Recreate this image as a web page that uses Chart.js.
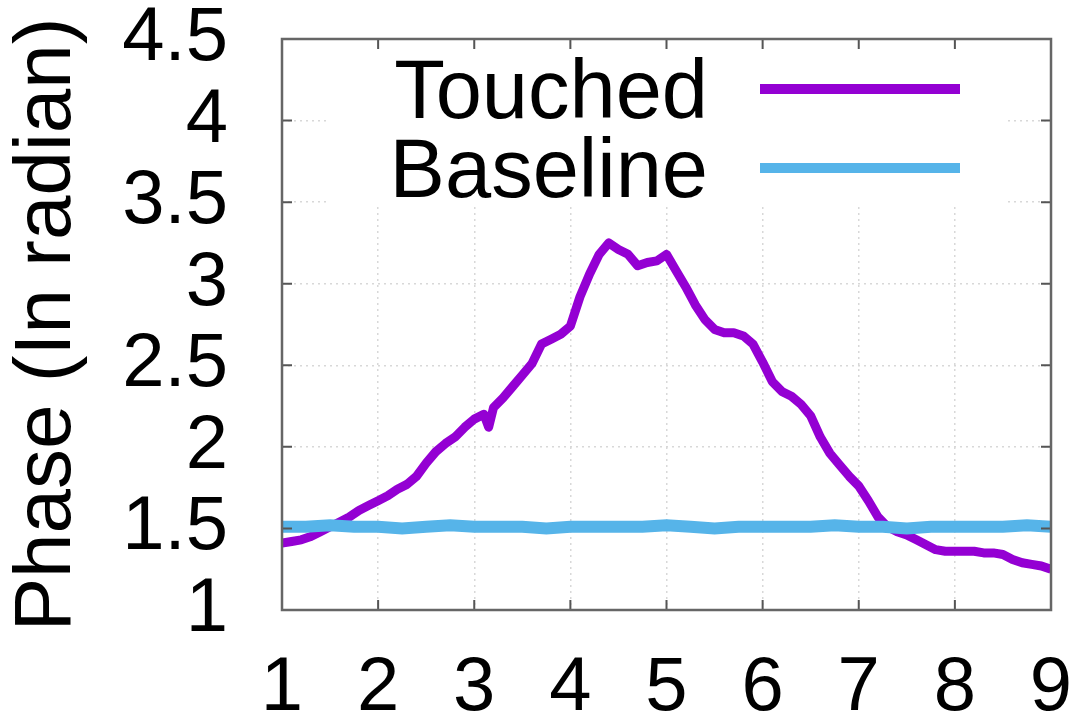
<!DOCTYPE html>
<html>
<head>
<meta charset="utf-8">
<script src="https://cdn.jsdelivr.net/npm/chart.js@4"></script>
<style>
  html, body { margin: 0; padding: 0; background: #fff; }
  #wrap { width: 1087px; height: 721px; }
</style>
</head>
<body>
<div id="wrap"><canvas id="chartPhase" width="1087" height="721"></canvas></div>
<script>
// Phase over time: touched vs. baseline
const xTickValues = [1, 2, 3, 4, 5, 6, 7, 8, 9];
const yTickValues = [1, 1.5, 2, 2.5, 3, 3.5, 4, 4.5];

const touchedX = [1.0, 1.1, 1.2, 1.3, 1.4, 1.5, 1.6, 1.7, 1.8, 1.9,
  2.0, 2.1, 2.2, 2.3, 2.4, 2.5, 2.6, 2.7, 2.8, 2.9,
  3.0, 3.1, 3.15, 3.2, 3.3, 3.4, 3.5, 3.6, 3.7, 3.8, 3.9,
  4.0, 4.1, 4.2, 4.3, 4.4, 4.5, 4.6, 4.7, 4.8, 4.9,
  5.0, 5.1, 5.2, 5.3, 5.4, 5.5, 5.6, 5.7, 5.8, 5.9,
  6.0, 6.1, 6.2, 6.3, 6.4, 6.5, 6.6, 6.7, 6.8, 6.9,
  7.0, 7.1, 7.2, 7.3, 7.4, 7.5, 7.6, 7.7, 7.8, 7.9,
  8.0, 8.1, 8.2, 8.3, 8.4, 8.5, 8.6, 8.7, 8.8, 8.9, 9.0];
const touchedPhase = [1.41, 1.42, 1.43, 1.45, 1.48, 1.51, 1.54, 1.57, 1.61, 1.64,
  1.67, 1.70, 1.74, 1.77, 1.82, 1.90, 1.97, 2.02, 2.06, 2.12,
  2.17, 2.20, 2.12, 2.24, 2.30, 2.37, 2.44, 2.51, 2.63, 2.66, 2.69,
  2.74, 2.92, 3.06, 3.18, 3.25, 3.21, 3.18, 3.11, 3.13, 3.14,
  3.18, 3.08, 2.98, 2.87, 2.78, 2.72, 2.70, 2.70, 2.68, 2.63,
  2.52, 2.40, 2.34, 2.31, 2.26, 2.19, 2.06, 1.96, 1.89, 1.82,
  1.76, 1.67, 1.57, 1.51, 1.48, 1.46, 1.43, 1.40, 1.37, 1.36,
  1.36, 1.36, 1.36, 1.35, 1.35, 1.34, 1.31, 1.29, 1.28, 1.27, 1.25];

const baselineX = [1.0, 1.25, 1.5, 1.75, 2.0, 2.25, 2.5, 2.75, 3.0, 3.25,
  3.5, 3.75, 4.0, 4.25, 4.5, 4.75, 5.0, 5.25, 5.5, 5.75,
  6.0, 6.25, 6.5, 6.75, 7.0, 7.25, 7.5, 7.75, 8.0, 8.25, 8.5, 8.75, 9.0];
const baselinePhase = [1.51, 1.51, 1.52, 1.51, 1.51, 1.50, 1.51, 1.52, 1.51, 1.51,
  1.51, 1.50, 1.51, 1.51, 1.51, 1.51, 1.52, 1.51, 1.50, 1.51,
  1.51, 1.51, 1.51, 1.52, 1.51, 1.51, 1.50, 1.51, 1.51, 1.51, 1.51, 1.52, 1.51];

const FONT = '"Liberation Sans", Arial, Helvetica, sans-serif';
const TICK_FS = 76;
const KEY_FS = 83;

// fixed plot box: no extra room for overhanging labels
function fixPadding(s) {
  s.paddingTop = 0;
  s.paddingBottom = 0;
  s.paddingLeft = 0;
  s.paddingRight = 0;
}

// white box behind the key, like gnuplot's opaque key
const keyBox = {
  id: "keyBox",
  beforeDatasetsDraw(chart) {
    const { ctx, chartArea } = chart;
    ctx.save();
    ctx.fillStyle = "#fff";
    ctx.fillRect(327, chartArea.top + 1, 1005 - 327, 205 - chartArea.top);
    ctx.restore();
  },
  afterDraw(chart) {
    const { ctx, chartArea: a, scales } = chart;
    ctx.save();
    // inward tick marks on all four sides
    ctx.strokeStyle = "#555";
    ctx.lineWidth = 2;
    ctx.beginPath();
    xTickValues.forEach((v) => {
      const px = scales.x.getPixelForValue(v);
      ctx.moveTo(px, a.bottom); ctx.lineTo(px, a.bottom - 10);
      ctx.moveTo(px, a.top); ctx.lineTo(px, a.top + 10);
    });
    yTickValues.forEach((v) => {
      const py = scales.y.getPixelForValue(v);
      ctx.moveTo(a.left, py); ctx.lineTo(a.left + 10, py);
      ctx.moveTo(a.right, py); ctx.lineTo(a.right - 10, py);
    });
    ctx.stroke();
    ctx.strokeStyle = "#666";
    ctx.lineWidth = 2.5;
    ctx.strokeRect(a.left, a.top, a.right - a.left, a.bottom - a.top);

    // key
    ctx.font = KEY_FS + "px " + FONT;
    ctx.fillStyle = "#000";
    ctx.textAlign = "right";
    ctx.textBaseline = "alphabetic";
    const rows = [{ text: 118, line: 89 }, { text: 197, line: 168 }];
    chart.data.datasets.forEach((ds, i) => {
      ctx.fillText(ds.label, 708, rows[i].text);
      ctx.strokeStyle = ds.borderColor;
      ctx.lineWidth = 10;
      ctx.beginPath();
      ctx.moveTo(760, rows[i].line);
      ctx.lineTo(960, rows[i].line);
      ctx.stroke();
    });
    ctx.restore();
  },
};

new Chart(document.getElementById("chartPhase"), {
  type: "line",
  data: {
    datasets: [
      {
        label: "Touched",
        data: touchedX.map((x, i) => ({ x, y: touchedPhase[i] })),
        borderColor: "#9400d3",
        borderWidth: 9,
        pointRadius: 0,
        tension: 0,
        borderJoinStyle: "round",
        order: 1,
      },
      {
        label: "Baseline",
        data: baselineX.map((x, i) => ({ x, y: baselinePhase[i] })),
        borderColor: "#56b4e9",
        borderWidth: 12,
        pointRadius: 0,
        tension: 0,
        order: 0,
      },
    ],
  },
  options: {
    responsive: false,
    animation: false,
    layout: { padding: { top: 39, right: 36, left: 0, bottom: 0 } },
    plugins: { legend: { display: false }, tooltip: { enabled: false } },
    scales: {
      x: {
        type: "linear",
        min: 1,
        max: 9,
        afterBuildTicks: (s) => { s.ticks = xTickValues.map((v) => ({ value: v })); },
        afterFit: (s) => { s.height = 111; fixPadding(s); },
        ticks: {
          color: "#000",
          font: { family: FONT, size: TICK_FS },
          padding: 33,
          maxRotation: 0,
          autoSkip: false,
          callback: (v) => String(v),
        },
        grid: { color: "#d8d8d8", lineWidth: 1.5, drawTicks: false },
        border: { display: false, dash: [2, 4] },
      },
      y: {
        min: 1,
        max: 4.5,
        afterBuildTicks: (s) => { s.ticks = yTickValues.map((v) => ({ value: v })); },
        afterFit: (s) => { s.width = 282; fixPadding(s); },
        ticks: {
          color: "#000",
          font: { family: FONT, size: TICK_FS },
          padding: 54,
          autoSkip: false,
          callback: (v) => String(v),
        },
        grid: { color: "#d8d8d8", lineWidth: 1.5, drawTicks: false },
        border: { display: false, dash: [2, 4] },
        title: {
          display: true,
          text: "Phase (In radian)",
          color: "#000",
          font: { family: FONT, size: 80 },
          padding: { top: 0, bottom: 0 },
        },
      },
    },
  },
  plugins: [keyBox],
});
</script>
</body>
</html>
